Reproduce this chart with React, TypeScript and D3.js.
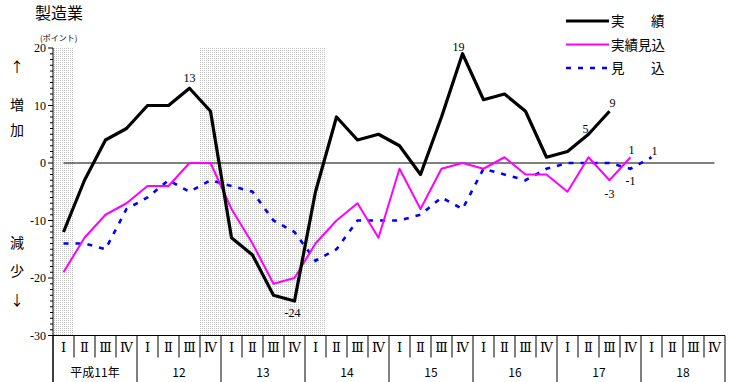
import React from "react";
import * as d3 from "d3";

const quarters = ["Ⅰ", "Ⅱ", "Ⅲ", "Ⅳ"];
const years = ["平成11年", "12", "13", "14", "15", "16", "17", "18"];
const actual = [-12, -3, 4, 6, 10, 10, 13, 9, -13, -16, -23, -24, -5, 8, 4, 5, 3, -2, 8, 19, 11, 12, 9, 1, 2, 5, 9];
const actualEst = [-19, -13, -9, -7, -4, -4, 0, 0, -8, -14, -21, -20, -14, -10, -7, -13, -1, -8, -1, 0, -1, 1, -2, -2, -5, 1, -3, 1];
const forecast = [-14, -14, -15, -8, -6, -3, -5, -3, -4, -5, -10, -12, -17, -15, -10, -10, -10, -9, -6, -8, -1, -2, -3, -1, 0, 0, 0, -1, 1];
const yTicks = [20, 10, 0, -10, -20, -30];
const shadedRanges: [number, number][] = [[0, 0], [7, 12]];
const legendItems = [
  { label: ["実", "績"], color: "#000", width: 3.2, dash: "" },
  { label: ["実績見込"], color: "#ff00ff", width: 2, dash: "" },
  { label: ["見", "込"], color: "#0000ff", width: 2.6, dash: "5,7" },
];

const W = 729, H = 382;
const left = 53, right = 725, top = 48, bottom = 335.5;
const nCat = years.length * 4;

export default function App() {
  const x = d3.scaleBand<number>().domain(d3.range(nCat)).range([left, right]).padding(0);
  const cx = (i: number) => (x(i) as number) + x.bandwidth() / 2;
  const y = d3.scaleLinear().domain([-30, 20]).range([bottom, top]);
  const line = d3.line<number>().x((_, i) => cx(i)).y((d) => y(d));
  const minor = d3.range(-30, 21, 1);
  const num = "'Liberation Serif', 'DejaVu Serif', serif";
  const jp = "'Noto Sans CJK JP', sans-serif";

  const labels = [
    { t: "13", x: cx(6), y: y(13) - 6 },
    { t: "-24", x: cx(11) - 2, y: y(-24) + 16 },
    { t: "19", x: cx(19) - 4, y: y(19) - 3 },
    { t: "5", x: cx(25) - 3, y: y(5) - 1 },
    { t: "9", x: cx(26) + 3, y: y(9) - 4 },
    { t: "1", x: cx(27) + 1, y: y(1) - 3 },
    { t: "-3", x: cx(26), y: y(-3) + 18 },
    { t: "-1", x: cx(27), y: y(-1) + 16 },
    { t: "1", x: cx(28) + 3, y: y(1) - 2 },
  ];

  return (
    <svg width={W} height={H} style={{ position: "absolute", left: 0, top: 0, background: "#fff" }}>
      <defs>
        <pattern id="dots" width="2" height="2" patternUnits="userSpaceOnUse">
          <rect width="2" height="2" fill="#fff" />
          <rect width="1" height="1" fill="#c4c4c4" />
        </pattern>
      </defs>
      {shadedRanges.map(([a, b], i) => (
        <rect key={i} x={x(a)} y={top} width={(x(b) as number) + x.bandwidth() - (x(a) as number)} height={bottom - top} fill="url(#dots)" />
      ))}
      <text x={35} y={19} fontFamily={jp} fontSize={16}>製造業</text>
      <text x={40} y={41} fontFamily={jp} fontSize={8}>(ポイント)</text>
      {[["↑", 72], ["増", 110], ["加", 135], ["減", 248], ["少", 276], ["↓", 305]].map(([t, yy]) => (
        <text key={t as string} x={10} y={yy as number} fontFamily={jp} fontSize={14}>{t}</text>
      ))}
      {/* y axis */}
      <line x1={left} x2={left} y1={top} y2={H} stroke="#000" />
      {minor.map((v) => (
        <line key={v} x1={left - (v % 10 === 0 ? 5 : 3)} x2={left} y1={y(v)} y2={y(v)} stroke="#000" />
      ))}
      {yTicks.map((v) => (
        <text key={v} x={46} y={y(v) + 4} textAnchor="end" fontFamily={num} fontSize={12}>{v}</text>
      ))}
      {/* zero line */}
      <line x1={cx(0)} x2={cx(nCat - 1)} y1={y(0)} y2={y(0)} stroke="#000" strokeWidth={1} />
      {/* category table */}
      <line x1={left} x2={right} y1={bottom} y2={bottom} stroke="#000" />
      {d3.range(nCat + 1).map((i) => {
        const xx = i === nCat ? right : (x(i) as number);
        return <line key={i} x1={xx} x2={xx} y1={bottom} y2={i % 4 === 0 ? H : bottom + 22} stroke="#000" />;
      })}
      {d3.range(nCat).map((i) => (
        <text key={i} x={cx(i)} y={352} textAnchor="middle" fontFamily={num} fontSize={13}>{quarters[i % 4]}</text>
      ))}
      {years.map((yr, k) => (
        <text key={yr} x={(cx(k * 4 + 1) + cx(k * 4 + 2)) / 2} y={377} textAnchor="middle" fontFamily={jp} fontSize={12}>{yr}</text>
      ))}
      {/* series */}
      <path d={line(forecast) as string} fill="none" stroke="#0000ff" strokeWidth={2.6} strokeDasharray="5,7" />
      <path d={line(actualEst) as string} fill="none" stroke="#ff00ff" strokeWidth={2} strokeLinejoin="round" />
      <path d={line(actual) as string} fill="none" stroke="#000" strokeWidth={3.2} strokeLinejoin="round" />
      {labels.map((l, i) => (
        <text key={i} x={l.x} y={l.y} textAnchor="middle" fontFamily={num} fontSize={12}>{l.t}</text>
      ))}
      {/* legend */}
      {legendItems.map((it, i) => {
        const ly = 21 + i * 23.5;
        return (
          <g key={i}>
            <line x1={566} x2={609} y1={ly} y2={ly} stroke={it.color} strokeWidth={it.width} strokeDasharray={it.dash} />
            <text x={611} y={ly + 5} fontFamily={jp} fontSize={13.5}>{it.label[0]}</text>
            {it.label.length > 1 && (
              <text x={651} y={ly + 5} fontFamily={jp} fontSize={13.5}>{it.label[1]}</text>
            )}
          </g>
        );
      })}
    </svg>
  );
}
